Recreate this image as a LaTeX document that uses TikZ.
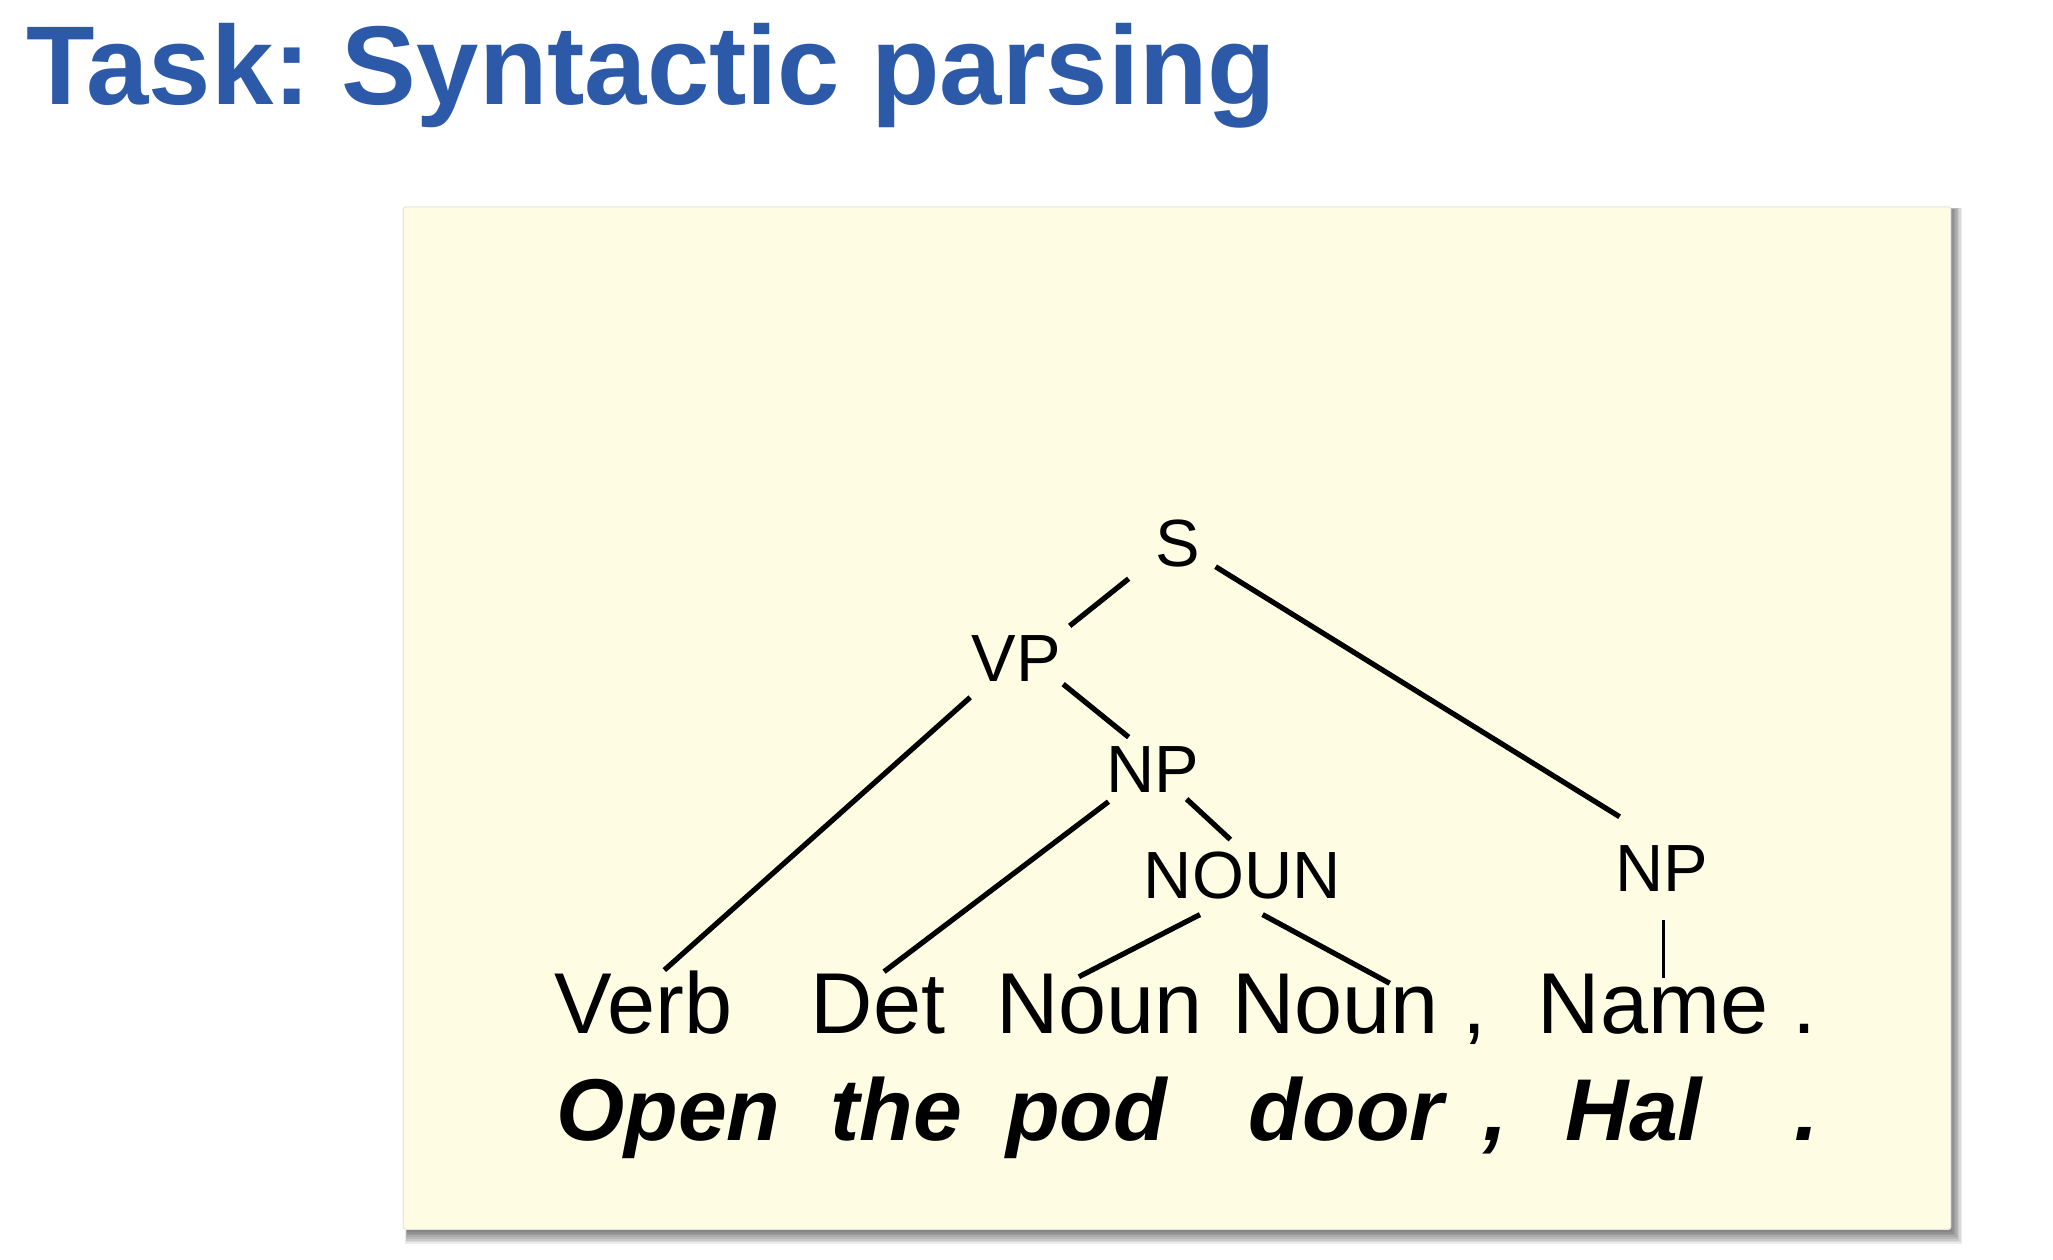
\documentclass[tikz,border=0pt]{standalone}
\usepackage{fontspec}
\setmainfont{Liberation Sans}
\usetikzlibrary{calc}
\definecolor{titleblue}{RGB}{44,90,168}
\definecolor{paper}{RGB}{254,252,226}
\tikzset{
  cat/.style={inner sep=0pt, anchor=base, font=\fontsize{51}{60}\selectfont},
  word/.style={inner sep=0pt, anchor=base, font=\fontsize{66}{76}\selectfont},
  token/.style={inner sep=0pt, anchor=base, font=\fontsize{67}{77}\selectfont\bfseries\itshape},
  branch/.style={line width=4pt, line cap=butt}
}
\begin{document}
\frenchspacing
\begin{tikzpicture}[x=1pt,y=-1pt]
\useasboundingbox (0,0) rectangle (1568,962);
% title
\node[inner sep=0pt, anchor=base west, text=titleblue, font=\fontsize{85.6}{100}\selectfont\bfseries] (title) at (20,79.5) {Task: Syntactic parsing};
% card with soft shadow
\foreach \k in {0,1,...,7}{
  \fill[black, opacity=0.08] (311-0.2*\k,160-0.2*\k) rectangle (1491+1.1*\k,941+1.3*\k);
}
\filldraw[fill=paper, draw=black!10, line width=0.8pt, rounded corners=2pt] (308,158) rectangle (1490,939);
% tree categories
\node[cat] (S) at (899.5,433) {S};
\node[cat] (VP) at (776,520.6) {VP};
\node[cat] (NPa) at (880.7,605.4) {NP};
\node[cat] (NOUN) at (948.8,686.5) {NOUN};
\node[cat] (NPb) at (1269,681) {NP};
% word categories
\node[word] (Verb) at (491.5,789.2) {Verb};
\node[word] (Det) at (670.5,789.2) {Det};
\node[word] (NounA) at (839.8,789.2) {Noun};
\node[word] (NounB) at (1020,789.2) {Noun};
\node[word] (comA) at (1126,789.2) {,};
\node[word] (Name) at (1262.5,789.2) {Name};
\node[word] (perA) at (1378,789.2) {.};
% tokens
\node[token] (Open) at (510.4,870.7) {Open};
\node[token] (the) at (684.6,870.7) {the};
\node[token] (pod) at (830,870.7) {pod};
\node[token] (door) at (1028.2,870.7) {door};
\node[token] (comB) at (1142,870.7) {,};
\node[token] (Hal) at (1248,870.7) {Hal};
\node[token] (perB) at (1380,870.7) {.};
% branches
\draw[branch] ($(S.base)+(-37.5,9)$) -- ($(VP.base)+(41,-42.6)$);
\draw[branch] ($(S.base)+(28.9,-0.2)$) -- ($(NPb.base)+(-32,-57.2)$);
\draw[branch] ($(VP.base)+(36,1.9)$) -- ($(NPa.base)+(-18.7,-42.4)$);
\draw[branch] ($(VP.base)+(-35,12)$) -- ($(Verb.base)+(15.9,-48.3)$);
\draw[branch] ($(NPa.base)+(-34.1,6.9)$) -- ($(Det.base)+(4.7,-47.1)$);
\draw[branch] ($(NPa.base)+(25.6,4.9)$) -- ($(NOUN.base)+(-9.1,-45.3)$);
\draw[branch] ($(NOUN.base)+(-32.3,12)$) -- ($(NounA.base)+(-15.8,-43.2)$);
\draw[branch] ($(NOUN.base)+(15.5,12)$) -- ($(NounB.base)+(41.4,-38.2)$);
\draw[branch, line width=2.8pt] ($(NPb.base)+(1.4,22)$) -- ($(Name.base)+(7.9,-42)$);
\end{tikzpicture}
\end{document}
